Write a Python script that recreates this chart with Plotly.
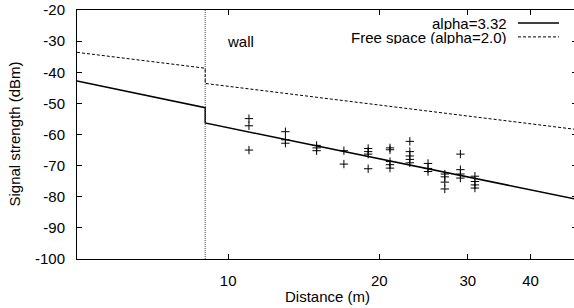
import plotly.graph_objects as go
import math

# ---- data ----
dist_m = [11, 11, 11,
          13, 13, 13,
          15, 15, 15,
          17, 17,
          19, 19, 19, 19,
          21, 21, 21, 21, 21,
          23, 23, 23, 23, 23,
          25, 25, 25,
          27, 27, 27, 27,
          29, 29, 29, 29,
          31, 31, 31, 31]
signal_dbm = [-54.9, -57.2, -65.0,
              -59.1, -61.7, -62.8,
              -63.5, -64.3, -65.2,
              -65.2, -69.5,
              -64.5, -65.5, -66.3, -71.0,
              -64.3, -64.9, -68.7, -69.7, -70.8,
              -62.2, -65.5, -66.9, -68.0, -69.1,
              -69.3, -70.9, -71.9,
              -72.7, -73.6, -75.3, -77.5,
              -66.3, -71.3, -72.7, -74.0,
              -73.4, -75.1, -76.2, -77.2]

model_x = [5, 9, 9, 50]
alpha332_y = [-42.8, -51.4, -56.3, -81.0]
freespace_y = [-33.6, -38.7, -43.6, -58.5]
wall_x = 9

legend_labels = ["alpha=3.32", "Free space (alpha=2.0)"]
x_tickvals = [10, 20, 30, 40]
y_tickvals = [-100, -90, -80, -70, -60, -50, -40, -30, -20]
x_title = "Distance (m)"
y_title = "Signal strength (dBm)"

FONT = "Liberation Sans, Arial, sans-serif"
FS = 15
XRANGE = [math.log10(5), math.log10(49.5)]
YRANGE = [-100, -20]

fig = go.Figure()
fig.add_trace(go.Scatter(x=model_x, y=freespace_y, mode="lines",
                         line=dict(color="black", width=1, dash="3px,2px"),
                         showlegend=False, hoverinfo="skip"))
fig.add_trace(go.Scatter(x=model_x, y=alpha332_y, mode="lines",
                         line=dict(color="black", width=1.5),
                         showlegend=False, hoverinfo="skip"))
fig.add_trace(go.Scatter(x=dist_m, y=signal_dbm, mode="markers",
                         marker=dict(symbol="cross-thin-open", size=6, color="black",
                                     line=dict(color="black", width=1)),
                         showlegend=False))
# invisible trace that binds the tick-only overlay axes
fig.add_trace(go.Scatter(x=[], y=[], xaxis="x2", yaxis="y2",
                         showlegend=False, hoverinfo="skip"))

# wall line
fig.add_shape(type="line", x0=wall_x, x1=wall_x, y0=0, y1=1,
              xref="x", yref="paper",
              line=dict(color="#444", width=1, dash="1px,1px"))
fig.add_annotation(x=math.log10(10.6), y=-30, xref="x", yref="y", text="wall",
                   showarrow=False, font=dict(family=FONT, size=FS, color="black"))

# axis titles placed like gnuplot
fig.add_annotation(x=0.5, y=-0.151, xref="paper", yref="paper", text=x_title,
                   showarrow=False, xanchor="center", yanchor="middle",
                   font=dict(family=FONT, size=FS, color="black"))
fig.add_annotation(x=-0.126, y=0.5, xref="paper", yref="paper", text=y_title,
                   textangle=-90, showarrow=False, xanchor="center", yanchor="middle",
                   font=dict(family=FONT, size=FS, color="black"))

# gnuplot-style key: right-justified text, sample to the right
rows = [(legend_labels[0], "solid", 1.5, 0.948),
        (legend_labels[1], "3px,2px", 1, 0.892)]
for label, dash, w, yp in rows:
    fig.add_annotation(x=0.864, y=yp, xref="paper", yref="paper", text=label,
                       xanchor="right", yanchor="middle", showarrow=False,
                       height=14, valign="middle",
                       font=dict(family=FONT, size=FS, color="black"))
    fig.add_shape(type="line", x0=0.882, x1=0.964, y0=yp, y1=yp,
                  xref="paper", yref="paper",
                  line=dict(color="black", width=w, dash=dash))

# label axes: transparent outside ticks push labels away from the frame
label_axis = dict(showgrid=False, zeroline=False, showline=True,
                  linecolor="black", linewidth=1, mirror=True,
                  ticks="outside", ticklen=8, tickcolor="rgba(0,0,0,0)",
                  tickfont=dict(family=FONT, size=FS, color="black"))
# tick axes: inside ticks on all four sides, no labels
tick_axis = dict(showgrid=False, zeroline=False, showline=False,
                 mirror="allticks", ticks="inside", ticklen=5, tickcolor="black",
                 tickwidth=1, showticklabels=False)

fig.update_layout(
    xaxis=dict(type="log", range=XRANGE, tickvals=x_tickvals,
               ticktext=[str(v) for v in x_tickvals], **label_axis),
    yaxis=dict(range=YRANGE, tickvals=y_tickvals,
               ticktext=[str(v) for v in y_tickvals], **label_axis),
    xaxis2=dict(type="log", range=XRANGE, tickvals=x_tickvals, overlaying="x",
                anchor="y2", **tick_axis),
    yaxis2=dict(range=YRANGE, tickvals=y_tickvals, overlaying="y",
                anchor="x2", **tick_axis),
    width=577, height=308,
    margin=dict(l=77, r=0, t=10, b=49, autoexpand=False),
    plot_bgcolor="white", paper_bgcolor="white",
    font=dict(family=FONT, size=FS, color="black"),
    showlegend=False)

fig.write_html("out.html", config={"displayModeBar": False},
               post_script="document.body.style.margin='0';document.body.style.overflow='hidden';")
